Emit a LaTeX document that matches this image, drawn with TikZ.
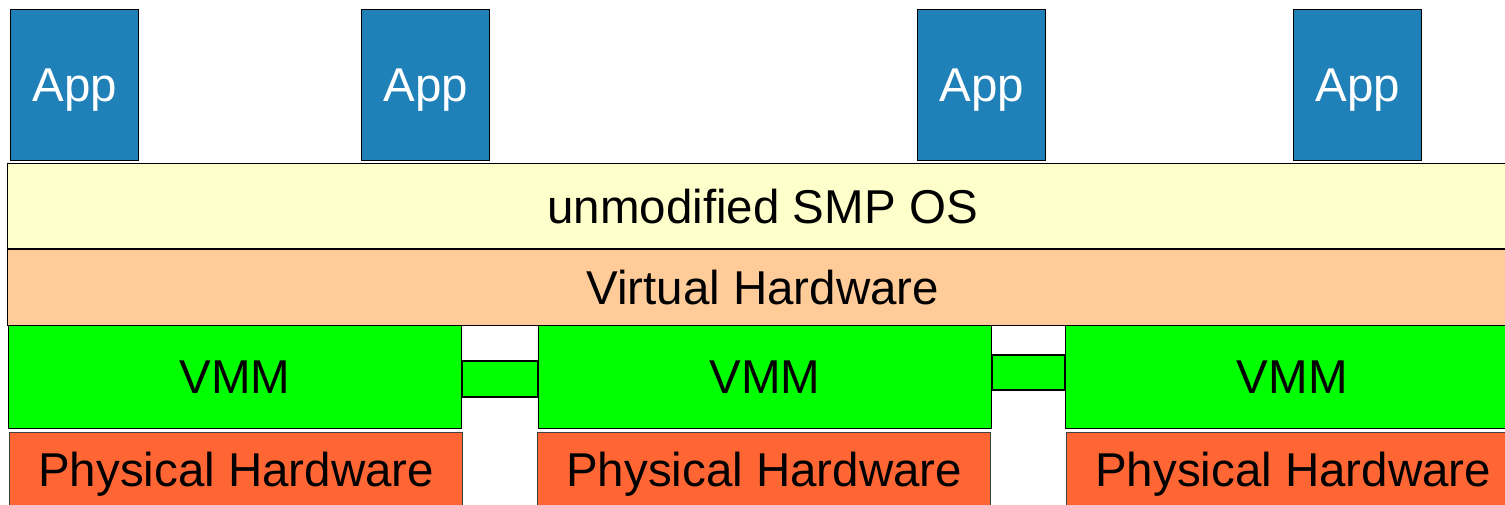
\documentclass[tikz,border=0pt]{standalone}
\usepackage{fontspec}
\setmainfont{Liberation Sans}
\usetikzlibrary{positioning,calc}
\definecolor{appblue}{HTML}{1F81B8}
\definecolor{oscream}{HTML}{FFFFCC}
\definecolor{vhpeach}{HTML}{FFCC99}
\definecolor{vmmgreen}{HTML}{00FF00}
\definecolor{hworange}{HTML}{FF6633}
\tikzset{lyr/.style={draw=black, line width=1.3pt, inner sep=0pt, anchor=north west, font=\fontsize{47.5}{52}\selectfont}}
\tikzset{appbx/.style={lyr, fill=appblue, text=white, text depth=0pt, minimum width=128pt, minimum height=151pt}}
\tikzset{oslyr/.style={lyr, fill=oscream, minimum width=1510pt, minimum height=85pt}}
\tikzset{vhlyr/.style={lyr, fill=vhpeach, minimum width=1510pt, minimum height=76pt}}
\tikzset{vmmbx/.style={lyr, fill=vmmgreen, minimum width=453pt, minimum height=103pt}}
\tikzset{hwbx/.style={lyr, draw=black!75, fill=hworange, minimum width=453pt, minimum height=84pt}}
\tikzset{link/.style={draw=black, line width=1.3pt, fill=vmmgreen}}

\begin{document}
\begin{tikzpicture}[x=1pt,y=-1pt]
\useasboundingbox (0,0) rectangle (1505,504);
\clip (0,0) rectangle (1505,504);
% applications
\node[appbx] (app1) at (10,9) {App};
\node[appbx] (app2) at (361,9) {App};
\node[appbx] (app3) at (917,9) {App};
\node[appbx] (app4) at (1293,9) {App};
% guest OS and virtual hardware
\node[oslyr] (os) at (7,163) {unmodified SMP OS};
\node[vhlyr] (vhw) at (7,249) {Virtual Hardware};
% monitors
\node[vmmbx] (vmm1) at (8,325) {VMM};
\node[vmmbx] (vmm2) at (538,325) {VMM};
\node[vmmbx] (vmm3) at (1065,325) {VMM};
\path[link] (vmm1.east |- 0,361) rectangle (vmm2.west |- 0,397);
\path[link] (vmm2.east |- 0,355) rectangle (vmm3.west |- 0,390);
% machines
\node[hwbx] (hw1) at (9,432) {Physical Hardware};
\node[hwbx] (hw2) at (537,432) {Physical Hardware};
\node[hwbx] (hw3) at (1066,432) {Physical Hardware};
\end{tikzpicture}
\end{document}
